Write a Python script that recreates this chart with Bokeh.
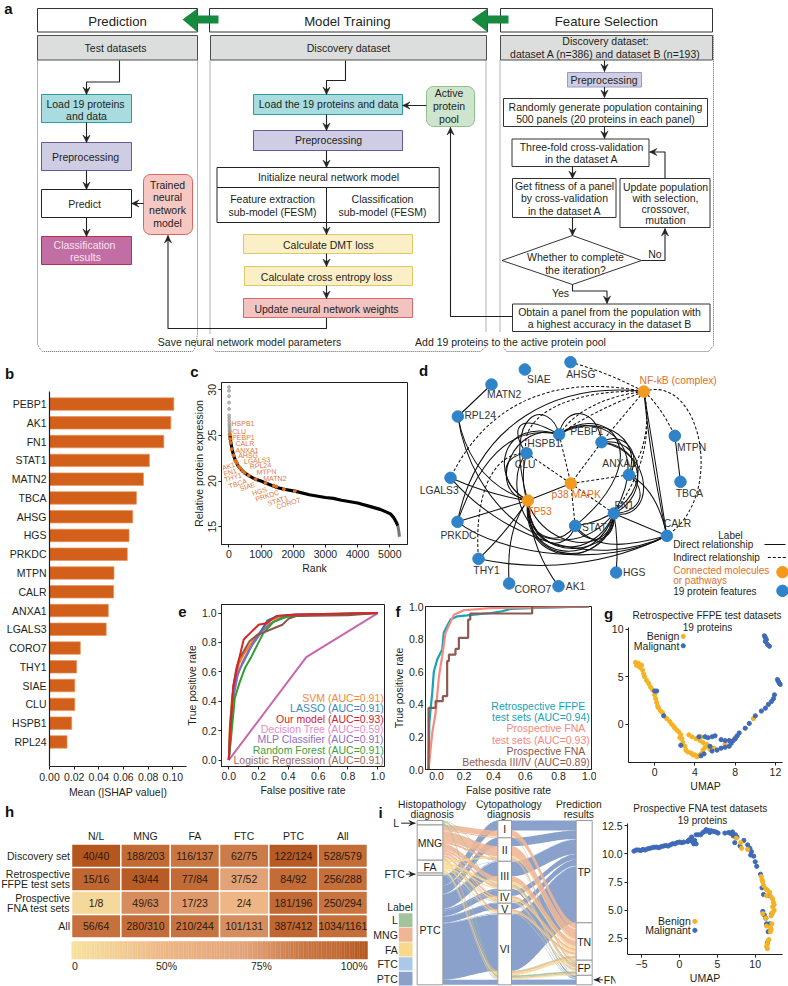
import numpy as np
from bokeh.plotting import figure
from bokeh.models import Column, Range1d, FixedTicker, NumeralTickFormatter
from bokeh.core.properties import value
from bokeh.embed import file_html
from bokeh.resources import INLINE

FONT = "Liberation Sans"
INK = "#231f20"

# ---------------- data ----------------
shap_names = ["PEBP1","AK1","FN1","STAT1","MATN2","TBCA","AHSG","HGS","PRKDC","MTPN","CALR","ANXA1","LGALS3","CORO7","THY1","SIAE","CLU","HSPB1","RPL24"]
shap_values = [0.1008,0.0984,0.0927,0.0810,0.0762,0.0705,0.0675,0.0645,0.0631,0.0523,0.0520,0.0477,0.0460,0.0250,0.0220,0.0205,0.0205,0.0180,0.0142]

rank_curve = [35,60,100,150,210,300,400,490,620,830,1000,1140,1500,1710,2050,2500,3000,3250,3500,4000,4400,4700,4900,5020,5120,5200,5250]
expr_curve = [25.0,24.3,23.5,22.8,22.2,21.6,21.2,20.9,20.6,20.2,20.0,19.8,19.3,19.1,18.9,18.5,18.2,18.1,17.9,17.6,17.2,16.9,16.6,16.4,16.0,15.5,15.1]
rank_tail = [5250,5280,5300]
expr_tail = [15.1,14.5,13.9]
rank_gray = [5,5,8,8,10,10,12,15,18,20,22,25,28,30,32]
expr_gray = [30.3,29.9,29.3,28.6,27.9,27.2,26.9,26.6,26.3,26.1,25.9,25.7,25.5,25.4,25.2]
rank_genes = [30,45,60,90,150,210,250,210,310,360,430,490,620,830,1140,1400,1480,1710,2050]
expr_genes = [25.1,24.6,24.2,23.5,22.8,22.2,22.0,22.2,21.6,21.4,21.1,20.9,20.6,20.2,19.8,19.5,19.4,19.1,18.9]
c_names = ["HSPB1","CLU","PEBP1","CALR","ANXA1","AHSG","LGALS3","RPL24","MTPN","MATN2","AK1","FN1","THY1","TBCA","SIAE","HGS","PRKDC","STAT1","CORO7"]

roc_models = ["SVM","LASSO","Decision Tree","MLP Classifier","Random Forest","Logistic Regression","Our model"]
roc_aucs = ["0.91","0.91","0.59","0.91","0.91","0.91","0.93"]
svm_fpr = [0,0.005,0.02,0.04,0.07,0.10,0.14,0.18,0.22,0.28,0.35,0.5,0.7,1]
svm_tpr = [0,0.20,0.40,0.55,0.66,0.72,0.78,0.84,0.88,0.95,0.975,0.985,0.99,1]
lasso_fpr = [0,0.01,0.03,0.05,0.08,0.12,0.16,0.20,0.26,0.33,0.45,1]
lasso_tpr = [0,0.20,0.45,0.56,0.63,0.71,0.79,0.85,0.95,0.98,0.99,1]
tree_fpr = [0,0.52,1]
tree_tpr = [0,0.70,1]
mlp_fpr = [0,0.01,0.03,0.06,0.09,0.13,0.17,0.22,0.28,0.36,0.5,1]
mlp_tpr = [0,0.12,0.42,0.58,0.66,0.74,0.80,0.87,0.93,0.97,0.985,1]
rf_fpr = [0,0.015,0.04,0.07,0.11,0.15,0.19,0.23,0.30,0.40,0.6,1]
rf_tpr = [0,0.15,0.42,0.52,0.63,0.70,0.78,0.86,0.94,0.98,0.99,1]
lr_fpr = [0,0.01,0.03,0.05,0.07,0.10,0.14,0.19,0.24,0.31,0.36,0.40,0.45,0.8,1]
lr_tpr = [0,0.25,0.50,0.62,0.69,0.74,0.81,0.85,0.87,0.90,0.92,0.96,0.98,0.985,1]
our_fpr = [0,0.01,0.03,0.06,0.10,0.15,0.20,0.25,0.32,0.45,1]
our_tpr = [0,0.20,0.50,0.65,0.82,0.87,0.92,0.93,0.98,0.99,1]

ffpe_fpr = [0,0.005,0.023,0.033,0.054,0.085,0.095,0.137,0.18,0.24,0.39,0.459,0.511,0.636,1]
ffpe_tpr = [0,0.29,0.47,0.60,0.675,0.736,0.84,0.92,0.94,0.945,0.96,0.971,0.985,0.99,1]
fna_fpr = [0,0.023,0.044,0.065,0.085,0.106,0.158,0.22,0.386,0.7,1]
fna_tpr = [0,0.225,0.348,0.573,0.695,0.838,0.95,0.977,0.99,0.995,1]
beth_fpr = [0,0,0.044,0.089,0.116,0.127,0.168,0.189,0.247,0.26,0.646,1]
beth_tpr = [0,0.378,0.419,0.45,0.665,0.705,0.74,0.808,0.92,0.957,1.0,1.0]

g1_benign_x = [-1.9,-1.8,-1.6,-1.5,-1.3,-1.2,-1.1,-1.0,-0.8,-0.6,-0.4,-0.2,0.0,0.1,0.2,0.3,0.4,0.6,0.8,1.2,1.5,1.7,1.9,2.0,2.2,2.4,2.6,2.5,2.7,2.8,3.0,3.1,3.3,3.6,3.8,4.0,4.2,4.4,4.6,4.8,5.0,5.2,3.4,3.7,4.1,4.5,4.8,5.2,5.5,5.9,7.0,8.0,9.8,4.6]
g1_benign_y = [6.5,6.2,6.4,6.0,6.2,5.7,5.3,5.0,4.6,4.3,3.9,3.6,3.1,2.7,2.3,1.9,1.7,1.4,1.2,0.6,0.3,0.0,-0.2,-0.4,-0.6,-0.8,-1.1,-1.4,-1.5,-1.9,-2.3,-2.7,-2.9,-3.0,-3.2,-3.2,-3.4,-3.3,-3.1,-2.7,-2.4,-2.3,-1.1,-1.3,-1.5,-1.7,-1.9,-2.1,-2.6,-2.5,-2.1,-1.4,0.6,-1.3]
g1_malig_x = [0.0,0.2,0.9,2.6,4.4,5.0,5.3,5.7,6.0,6.6,7.0,7.4,7.8,7.6,7.4,7.0,6.6,6.2,5.7,4.9,4.6,5.5,8.4,9.0,9.4,10.0,10.6,11.0,11.3,11.6,11.8,11.9,10.9,11.0,11.1,11.0,11.2,11.4,12.2,12.3,12.4,12.5,8.0,8.2]
g1_malig_y = [3.5,3.5,0.9,-2.2,-1.3,-1.3,-1.4,-1.3,-1.2,-1.6,-1.7,-1.7,-1.7,-2.0,-2.3,-2.4,-2.5,-2.7,-2.8,-3.1,-3.3,-2.3,-0.9,-0.4,0.1,0.9,1.4,1.7,2.1,2.4,2.7,3.1,9.3,9.1,8.9,8.7,8.4,8.2,4.7,4.5,4.3,4.2,-1.5,-1.2]

g2_malig_x = [-6,-5.7,-5.4,-5.1,-4.8,-4.5,-4.2,-3.9,-3.6,-3.3,-3,-2.7,-2.4,-2.1,-1.8,-1.5,-1.2,-0.9,-0.6,-0.3,0,0.3,0.6,1.1,1.2,1.4,1.6,1.7,1.9,2.0,2.2,2.2,2.5,2.8,3.1,3.4,3.5,3.8,4.0,4.2,4.5,4.8,5.1,6.0,6.5,6.8,7,7.1,7.4,7.6,7.3,8.0,8.5,9,9.3,9.5,9.4,9.8,10,10.2,10.7,10.9,11.1,11.8,11,11.2,11.4,11.5,11.7,12.2,11.9,11.6]
g2_malig_y = [10.25,10.35,10.35,10.3,10.4,10.35,10.45,10.5,10.55,10.6,10.6,10.55,10.65,10.7,10.75,10.7,10.8,10.9,10.9,11,11.05,11,11.05,11.1,11.2,11.3,11.5,11.1,10.9,11.2,10.9,11.7,11.7,11.7,11.9,12,12.15,12.1,11.9,12.05,12.0,11.95,11.85,11.85,11.9,11.8,11.95,11.6,11.7,11.5,11.0,10.7,11.2,10.8,10.5,10.2,9.9,9.8,9.3,8.9,8.2,7.0,6.4,6.3,4.9,4.6,4.3,3.8,3.1,4.7,3.8,2.1]
g2_benign_x = [7.5,8.1,8.2,9,10.8,10.9,11,11.1,11.4,11.6,11.5,11.9,12.1,12.3,12.4,12.5,12.3,12.5,12.3,12.1,11,11.4,12.2,12,12,12.1,11.5,11.7,11.6,11.5,11.6,11.8]
g2_benign_y = [11.4,11.0,10.5,10.4,8.0,7.7,7.5,7.2,6.9,6.8,6.3,6.6,6.2,6,5.7,5.5,5.3,5,4.8,4.5,4.7,4.3,3.8,3.5,3.1,3.3,3.6,2.3,2.0,1.8,1.6,2.4]

h_cols = ["N/L","MNG","FA","FTC","PTC","All"]
h_rows = [["Discovery set"],["Retrospective","FFPE test sets"],["Prospective","FNA test sets"],["All"]]
h_num = [[40,188,116,62,122,528],[15,43,77,37,84,256],[1,49,17,2,181,250],[56,280,210,101,387,1034]]
h_den = [[40,203,137,75,124,579],[16,44,84,52,92,288],[8,63,23,4,196,294],[64,310,244,131,412,1161]]
h_bar_labels = ["0","50%","75%","100%"]

i_labels = ["L","MNG","FA","FTC","PTC"]
i_cyto = ["I","II","III","IV","V","VI"]
i_pred = ["TP","TN","FP","FN"]
flow_label = ["PTC","PTC","PTC","PTC","PTC","PTC","PTC","PTC","PTC","PTC","PTC",
              "MNG","MNG","MNG","MNG","MNG","MNG","MNG","MNG","MNG","MNG","MNG",
              "FA","FA","FA","FA","FA","FA","FA","FA","FA","FA","FA",
              "L","L","L","L","L",
              "FTC","FTC","FTC","FTC"]
flow_cyto = ["I","II","II","III","III","IV","IV","V","V","VI","VI",
             "I","I","II","II","III","III","IV","IV","V","VI","VI",
             "I","II","III","III","IV","IV","V","V","VI","VI","VI",
             "II","III","IV","VI","VI",
             "III","IV","VI","VI"]
flow_pred = ["TP","TP","FN","TP","FN","TP","FN","TP","FN","TP","FN",
             "TN","FP","TN","FP","TN","FP","TN","FP","TN","TN","FP",
             "TN","TN","TN","FP","TN","FP","TN","FP","TN","FP","FP",
             "FP","FP","FP","TN","FP",
             "TP","FN","TP","FN"]
flow_n = [18,15,1,26,3,10,1,11,1,101,9,
          10,2,18,4,10,4,4,2,4,3,2,
          1,3,4,2,3,1,2,1,4,1,1,
          1,2,1,1,3,
          1,1,1,1]

# d network
nodes = {"AHSG":(540,20),"SIAE":(403,42),"MATN2":(303,87),"RPL24":(202,183),"NFkB":(760,108),"HSPB1":(506,237),
         "PEBP1":(633,260),"MTPN":(853,241),"CLU":(408,293),"ANXA1":(715,358),"TBCA":(870,379),"LGALS3":(180,367),
         "p38":(541,384),"TP53":(412,435),"FN1":(670,474),"STAT1":(554,511),"PRKDC":(201,499),"CALR":(829,541),
         "THY1":(264,610),"HGS":(677,651),"CORO7":(356,684),"AK1":(504,692)}
hubs = ["NFkB","p38","TP53"]
d_labels = [("AHSG",571,56,"#333"),("SIAE",445,73,"#333"),("MATN2",341,117,"#333"),("RPL24",269,179,"#333"),
            ("NF-kB (complex)",863,74,"#e0701f"),("HSPB1",461,265,"#333"),("PEBP1",589,228,"#333"),("MTPN",903,275,"#333"),
            ("CLU",404,326,"#333"),("ANXA1",686,324,"#333"),("TBCA",897,413,"#333"),("LGALS3",146,405,"#333"),
            ("p38 MAPK",557,416,"#e0701f"),("TP53",447,468,"#e0701f"),("FN1",701,449,"#333"),("STAT1",620,515,"#333"),
            ("PRKDC",204,539,"#333"),("CALR",861,503,"#333"),("THY1",288,644,"#333"),("HGS",731,652,"#333"),
            ("CORO7",427,703,"#333"),("AK1",555,693,"#333")]
solid_cubic = [("RPL24",(240,450),(500,680),"FN1"),("LGALS3",(330,540),(600,650),"CALR"),("PRKDC",(330,600),(650,640),"CALR"),
               ("THY1",(450,650),(650,630),"CALR"),("TP53",(400,620),(620,640),"FN1"),("TP53",(385,630),(640,655),"FN1"),
               ("TP53",(410,600),(610,625),"FN1"),("TP53",(395,640),(660,640),"FN1"),("TP53",(420,590),(530,590),"STAT1"),
               ("TP53",(290,370),(330,180),"HSPB1"),("TP53",(320,380),(330,300),"CLU"),("CLU",(360,230),(370,160),"HSPB1"),
               ("HSPB1",(520,150),(620,150),"PEBP1"),("PRKDC",(260,200),(500,80),"NFkB"),("PEBP1",(760,270),(780,420),"FN1"),
               ("HSPB1",(600,160),(800,250),"FN1"),("HSPB1",(620,170),(760,240),"ANXA1"),("PEBP1",(700,220),(760,300),"ANXA1"),
               ("ANXA1",(770,400),(760,470),"FN1"),("PEBP1",(800,290),(790,500),"FN1"),("STAT1",(580,570),(680,570),"FN1"),
               ("CLU",(340,560),(660,640),"FN1"),("HSPB1",(370,190),(280,410),"TP53"),("CLU",(320,400),(450,640),"STAT1"),
               ("STAT1",(620,590),(720,570),"CALR"),("HSPB1",(480,130),(330,150),"TP53"),("HSPB1",(650,130),(810,300),"STAT1"),
               ("FN1",(690,590),(420,650),"TP53"),("PEBP1",(790,240),(790,480),"STAT1")]
solid_quad = [("RPL24","MATN2",None),("MTPN","TBCA",None),("NFkB","CALR",(780,320)),("NFkB","CALR",(795,320)),("p38","TP53",None),
              ("RPL24","TP53",(240,380)),("LGALS3","TP53",(300,420)),("PRKDC","TP53",None),("PRKDC","HSPB1",(310,190)),
              ("THY1","TP53",(340,540)),("CORO7","TP53",(345,520)),("AK1","TP53",(420,580)),("HGS","FN1",(685,560)),
              ("FN1","CALR",None),("ANXA1","CALR",(800,400))]
dash_quad = [("AHSG","NFkB",(650,50)),("NFkB","MTPN",(810,150)),("NFkB","HSPB1",(580,130)),("NFkB","HSPB1",(600,170)),("NFkB","PEBP1",None),
             ("NFkB","ANXA1",(790,250)),("NFkB","FN1",(800,300)),("HSPB1","p38",None),("PEBP1","p38",None),("CLU","p38",None),
             ("ANXA1","p38",None),("FN1","p38",None),("STAT1","p38",None)]
dash_cubic = [("NFkB",(930,50),(1010,420),"CALR"),("NFkB",(520,60),(300,120),"LGALS3"),("NFkB",(560,100),(380,170),"CLU"),
              ("CLU",(300,290),(250,430),"THY1")]

# ---------------- helpers ----------------
LB, RB = 50, 5   # side borders Bokeh keeps round a frame; figures are placed so that frames land where wanted

def T(p, x, y, s, size=10.5, color=INK, align="center", bold=False, angle=0):
    p.text(x=[x], y=[y], text=[s], text_font=value(FONT), text_font_size=f"{size}px", text_color=color,
           text_align=align, text_baseline="middle", angle=angle,
           text_font_style="bold" if bold else "normal")

def place(p, left, top):
    # children sit in an inner column that begins LB pixels left of the page
    p.styles = {"position": "absolute", "left": f"{left+LB}px", "top": f"{top}px"}
    return p

def bare(left, top, width, height, x_range, y_range):
    p = figure(width=width+LB+RB, height=height, x_range=x_range, y_range=y_range, output_backend="svg",
               toolbar_location=None, min_border_left=LB, min_border_right=RB, min_border_top=0, min_border_bottom=0,
               background_fill_color=None, border_fill_color=None,
               outline_line_color=None, x_axis_location=None, y_axis_location=None)
    p.grid.visible = False
    return place(p, left-LB, top)

def axes_style(ax, size=10.5, standoff=2, label_standoff=1, tick=3):
    ax.major_label_text_font = FONT
    ax.major_label_text_font_size = f"{size}px"
    ax.major_label_text_color = INK
    ax.axis_label_text_font = FONT
    ax.axis_label_text_font_size = f"{size}px"
    ax.axis_label_text_font_style = "normal"
    ax.axis_label_text_color = INK
    ax.major_label_standoff = standoff
    ax.axis_label_standoff = label_standoff
    ax.minor_tick_line_color = None
    ax.major_tick_out = tick
    ax.major_tick_in = 0
    ax.axis_line_color = INK
    ax.major_tick_line_color = INK
    ax.axis_line_width = 1

def chart(top, fx0, fx1, fy0, fy1, bottom, xr, yr, outline=True):
    p = figure(width=int(fx1-fx0+LB+RB), height=bottom-top, x_range=Range1d(*xr), y_range=Range1d(*yr), output_backend="svg",
               toolbar_location=None, min_border_left=LB, min_border_right=RB,
               min_border_top=fy0-top, min_border_bottom=bottom-fy1, background_fill_color=None,
               border_fill_color=None, outline_line_color=INK if outline else None)
    p.grid.visible = False
    for ax in (p.xaxis[0], p.yaxis[0]):
        axes_style(ax)
    return place(p, fx0-LB, top)

# ---------------- canvas with flowchart and letters ----------------
cv = bare(0, 0, 733, 986, Range1d(0, 733), Range1d(986, 0))

def box(x0, y0, x1, y1, fill="#ffffff", line="#222222", w=1.0):
    cv.quad(left=[x0], right=[x1], top=[y0], bottom=[y1], fill_color=fill, line_color=line, line_width=w)

def rbox(x0, y0, x1, y1, r, fill, line):
    a = np.linspace(0, np.pi/2, 8)
    xs = np.r_[x1-r+r*np.sin(a), x1-r+r*np.cos(a), x0+r-r*np.sin(a), x0+r-r*np.cos(a)]
    ys = np.r_[y0+r-r*np.cos(a), y1-r+r*np.sin(a), y1-r+r*np.cos(a), y0+r-r*np.sin(a)]
    cv.patch(xs, ys, fill_color=fill, line_color=line, line_width=1)

def arrow(pts, color="#222222", w=1.1, L=7.5, H=3.6):
    xs = [q[0] for q in pts]; ys = [q[1] for q in pts]
    cv.line(xs, ys, line_color=color, line_width=w)
    dx, dy = xs[-1]-xs[-2], ys[-1]-ys[-2]
    n = np.hypot(dx, dy); dx, dy = dx/n, dy/n
    tx, ty = xs[-1], ys[-1]
    bx, by = tx-dx*L, ty-dy*L
    nx, ny = tx-dx*L*0.62, ty-dy*L*0.62
    cv.patch([tx, bx-dy*H, nx, bx+dy*H], [ty, by+dx*H, ny, by-dx*H], fill_color=color, line_color=color, line_width=0.5)

def dotted(xs, ys):
    cv.line(xs, ys, line_color="#555555", line_width=0.9, line_dash="1 1")

teal, tealE = "#a9dcdf", "#2b9aa3"
purp, purpE = "#cfcde3", "#5e5ca0"
yel, yelE = "#fbefc8", "#dfc765"
red, redE = "#f3c3c1", "#d66a68"
gray, grayE = "#dcdedd", "#4d4d4d"

# header boxes
for x0, x1, tx, s in [(37, 197, 117, "Prediction"), (209, 487, 347, "Model Training"), (500, 712, 606, "Feature Selection")]:
    box(x0, 8, x1, 31.5, line="#333333")
    T(cv, tx, 20.5, s, size=13.2)
for bx0, bx1, hx0, hx1 in [(197, 218, 182, 197), (487, 508, 471, 487)]:
    cv.patch([hx0, hx1, hx1, bx1, bx1, hx1, hx1], [19, 8, 15, 15, 23, 23, 31.5], fill_color="#178a3f", line_color=None)

# gray boxes
box(37, 35, 197, 59.5, gray, grayE)
box(210, 35, 486, 59.5, gray, grayE)
box(500, 35, 712, 59.5, gray, grayE)
T(cv, 115, 47, "Test datasets"); T(cv, 348, 47, "Discovery dataset")
T(cv, 605, 40, "Discovery dataset:"); T(cv, 605, 53, "dataset A (n=386) and dataset B (n=193)")

# dotted panels
dotted([37, 37], [60, 344]); dotted([37, 40, 42, 192, 194, 197], [344, 349, 351, 351, 349, 334])
dotted([197, 197], [60, 334])
dotted([209.5, 209.5], [60, 333]); dotted([213, 215, 480, 485.5], [349, 351, 351, 346]); dotted([485.5, 485.5], [60, 331])
dotted([499.5, 499.5], [60, 331]); dotted([503, 506, 708, 713, 713], [347, 351, 351, 345, 35])

# prediction column
box(41, 94, 131, 122, teal, tealE); T(cv, 85, 103, "Load 19 proteins"); T(cv, 86, 115.5, "and data")
box(41, 142, 131, 170, purp, purpE); T(cv, 85, 156, "Preprocessing")
box(41, 189, 131, 217); T(cv, 84, 203, "Predict")
box(41, 236, 131, 264, "#c26da3", "#b4304f"); T(cv, 84, 244, "Classification", color="#f6e4ef"); T(cv, 85, 256, "results", color="#f6e4ef")
rbox(143, 174, 192, 234, 7, "#f5c8c4", "#d9635f")
for i, s in enumerate(["Trained", "neural", "network", "model"]):
    T(cv, 167, 184+i*12.8, s)
arrow([(119, 60), (119, 81.5), (86, 81.5), (86, 94)])
arrow([(86, 122), (86, 142)]); arrow([(86, 170), (86, 189)]); arrow([(86, 217), (86, 236)])
arrow([(143, 203), (131, 203)])
arrow([(326, 317), (326, 328), (167.5, 328), (167.5, 235)])

# model column
box(253, 94, 402, 114, teal, tealE); T(cv, 328, 103, "Load the 19 proteins and data")
box(253, 130, 402, 150, purp, purpE); T(cv, 328, 139.5, "Preprocessing")
box(216.5, 167, 438.7, 187); T(cv, 328, 176.5, "Initialize neural network model")
box(216.5, 187, 326, 222); box(326, 187, 438.7, 222)
T(cv, 272, 198.5, "Feature extraction"); T(cv, 272, 211, "sub-model (FESM)")
T(cv, 382, 198.5, "Classification"); T(cv, 382, 211, "sub-model (FESM)")
box(243, 234, 412, 253, yel, yelE); T(cv, 328, 244, "Calculate DMT loss")
box(244, 266, 412, 285, yel, yelE); T(cv, 326, 276, "Calculate cross entropy loss")
box(243, 298, 412, 317, red, redE); T(cv, 326, 308, "Update neural network weights")
arrow([(345, 60), (345, 80), (326, 80), (326, 94)])
for y0, y1 in [(114, 130), (150, 167), (222, 234), (253, 266), (285, 298)]:
    arrow([(326, y0), (326, y1)])
rbox(426, 86, 474, 126, 7, "#cfe4cc", "#8dc08a")
for i, s in enumerate(["Active", "protein", "pool"]):
    T(cv, 448.5, 92.5+i*12.8, s)
arrow([(426, 105), (402, 105)])
arrow([(512, 316), (450, 316), (450, 127)])
T(cv, 249, 341, "Save neural network model parameters"); T(cv, 510, 341, "Add 19 proteins to the active protein pool")

# feature column
arrow([(604, 60), (604, 71)])
box(567, 72, 641, 86.5, purp, "#9b99c8"); T(cv, 603.5, 79, "Preprocessing")
arrow([(604, 86.5), (604, 97)])
box(503, 98, 707, 126, line="#333333"); T(cv, 605, 106, "Randomly generate population containing"); T(cv, 605, 118.5, "500 panels (20 proteins in each panel)")
arrow([(604, 126), (604, 138)])
box(511.5, 138.5, 648.5, 166, line="#333333"); T(cv, 581, 146, "Three-fold cross-validation"); T(cv, 581, 158.5, "in the dataset A")
arrow([(572, 166), (572, 178)])
box(512, 178, 615.5, 217, line="#333333")
for i, s in enumerate(["Get fitness of a panel", "by cross-validation", "in the dataset A"]):
    T(cv, 564, 185+i*12.9, s)
box(619.5, 178, 709.5, 227, line="#333333")
for i, s in enumerate(["Update population", "with selection,", "crossover,", "mutation"]):
    T(cv, 665, 186+i*11.2, s)
arrow([(664.5, 178), (664.5, 151.5), (649, 151.5)])
arrow([(572, 217), (572, 235)])
cv.patch([501.5, 572, 641, 572], [260, 235, 260, 284], fill_color="#ffffff", line_color="#333333", line_width=1)
T(cv, 575, 256, "Whether to complete"); T(cv, 575, 269, "the iteration?")
arrow([(641, 260), (664.5, 260), (664.5, 228)])
T(cv, 654.5, 253, "No")
arrow([(572, 284), (572, 290.5), (606.5, 290.5), (606.5, 303)])
T(cv, 560, 292, "Yes")
box(512, 303.5, 709.5, 331, line="#333333"); T(cv, 609, 311, "Obtain a panel from the population with"); T(cv, 609, 323, "a highest accuracy in the dataset B")

# panel letters
for s, x, y in [("a", 8, 8), ("b", 9, 373), ("c", 194, 371), ("d", 423, 370), ("e", 182, 611), ("f", 397.5, 611), ("g", 608, 613), ("h", 9, 811), ("i", 380, 812)]:
    T(cv, x, y, s, size=15, color="#111111", bold=True)

# titles for g panels
tg1 = bare(600, 606, 188, 28, Range1d(600, 788), Range1d(634, 606))
T(tg1, 706.5, 615, "Retrospective FFPE test datasets", size=10); T(tg1, 707, 626.5, "19 proteins", size=10)
tg2 = bare(600, 800, 188, 28, Range1d(600, 788), Range1d(828, 800))
T(tg2, 700, 808, "Prospective FNA test datasets", size=10); T(tg2, 702, 820, "19 proteins", size=10)

# ---------------- b ----------------
pb = chart(385, 49, 186, 391, 772, 800, (0, 0.1111), (19.31, -0.67), outline=False)
pb.hbar(y=list(range(19)), right=shap_values, height=0.665, fill_color="#d2601a", line_color="#e9925a", line_width=0.7)
pb.yaxis[0].ticker = FixedTicker(ticks=list(range(19)))
pb.yaxis[0].major_label_overrides = {i: n for i, n in enumerate(shap_names)}
pb.yaxis[0].major_tick_out = 0
pb.yaxis[0].major_label_standoff = 3
pb.xaxis[0].ticker = FixedTicker(ticks=[0, 0.02, 0.04, 0.06, 0.08, 0.10])
pb.xaxis[0].formatter = NumeralTickFormatter(format="0.00")
pb.xaxis[0].axis_label = "Mean (|SHAP value|)"
pb.xaxis[0].major_label_standoff = 3
pb.xaxis[0].axis_label_standoff = 2
pb.yaxis[0].axis_line_width = 1.2

# ---------------- c ----------------
pc = chart(376, 221, 407, 382, 544, 580, (-227, 5550), (13.05, 30.8))
pc.scatter(rank_gray, expr_gray, size=3, color="#9a9a9a", alpha=0.7)
pc.line(rank_curve, expr_curve, line_color="#000000", line_width=3.2)
pc.line(rank_tail, expr_tail, line_color="#777777", line_width=3)
pc.scatter(rank_genes, expr_genes, size=3, color="#e0701f")
pc.xaxis[0].ticker = FixedTicker(ticks=[0, 1000, 2000, 3000, 4000, 5000])
pc.xaxis[0].axis_label = "Rank"
pc.yaxis[0].ticker = FixedTicker(ticks=[15, 20, 25, 30])
pc.yaxis[0].axis_label = "Relative protein expression"
pc.yaxis[0].major_label_orientation = "vertical"
def c_x(zx): return (zx/3-228.3)/32.2*1000
def c_y(zy): return 15+(526-(355+zy/3))/9.1
c_pos = [(693,205,0),(695,228,0),(695,245,0),(705,263,0),(705,285,0),(713,300,0),(730,318,0.08),(748,333,0.08),(768,350,0.05),(788,369,0),
         (665,338,0.3),(670,356,0.3),(672,373,0.3),(685,392,0.3),(718,400,0.3),(755,414,0.3),(765,431,0.3),(802,444,0.3),(828,454,0.3)]
for n, (zx, zy_, ang) in zip(c_names, c_pos):
    T(pc, c_x(zx), c_y(zy_), n, size=7, color="#e0783c", align="left", angle=ang)

# ---------------- d ----------------
pd_ = bare(390, 355, 398, 260, Range1d(0, 1194), Range1d(780, 0))
def nxy(v): return nodes[v] if isinstance(v, str) else v
for lst, dash in [(solid_quad, "solid"), (dash_quad, "3 2")]:
    for a, b, c in lst:
        ax, ay = nxy(a); bx, by = nxy(b)
        if c is None:
            pd_.line([ax, bx], [ay, by], line_color="#111111", line_width=1.05, line_dash=dash)
        else:
            pd_.quadratic(x0=[ax], y0=[ay], x1=[bx], y1=[by], cx=[c[0]], cy=[c[1]], line_color="#111111", line_width=1.05, line_dash=dash)
for lst, dash in [(solid_cubic, "solid"), (dash_cubic, "3 2")]:
    for a, c0, c1, b in lst:
        ax, ay = nxy(a); bx, by = nxy(b)
        pd_.bezier(x0=[ax], y0=[ay], x1=[bx], y1=[by], cx0=[c0[0]], cy0=[c0[1]], cx1=[c1[0]], cy1=[c1[1]], line_color="#111111", line_width=1.05, line_dash=dash)
pd_.scatter([nodes[k][0] for k in nodes if k not in hubs], [nodes[k][1] for k in nodes if k not in hubs], size=11.5, color="#2f83c8")
pd_.scatter([nodes[k][0] for k in hubs], [nodes[k][1] for k in hubs], size=11.5, color="#f39a1e")
for s, x, y, col in d_labels:
    T(pd_, x, y, s, size=10.3, color=col)
T(pd_, 1020, 540, "Label", size=10)
T(pd_, 848, 567, "Direct relationship", size=10, align="left")
T(pd_, 848, 605, "Indirect relationship", size=10, align="left")
T(pd_, 848, 646, "Connected molecules", size=10, align="left", color="#e0701f")
T(pd_, 848, 674, "or pathways", size=10, align="left", color="#e0701f")
T(pd_, 848, 709, "19 protein features", size=10, align="left")
pd_.line([1122, 1185], [567, 567], line_color="#111111", line_width=1)
pd_.line([1132, 1190], [606, 606], line_color="#111111", line_width=1.2, line_dash="3 2")
pd_.scatter([1176, 1176], [650, 706], size=11.5, color=["#f39a1e", "#2f83c8"])

# ---------------- e ----------------
pe = chart(598, 221, 384, 604, 770, 798, (-0.049, 1.045), (-0.044, 1.058))
roc_e = [(svm_fpr, svm_tpr, "#ff7f0e"), (lasso_fpr, lasso_tpr, "#1f77b4"), (tree_fpr, tree_tpr, "#c966ad"), (mlp_fpr, mlp_tpr, "#9467bd"),
         (rf_fpr, rf_tpr, "#2ca02c"), (lr_fpr, lr_tpr, "#8c564b"), (our_fpr, our_tpr, "#d62728")]
for xs, ys, col in roc_e:
    pe.line(xs, ys, line_color=col, line_width=2)
pe.xaxis[0].ticker = FixedTicker(ticks=[0, .2, .4, .6, .8, 1])
pe.yaxis[0].ticker = FixedTicker(ticks=[0, .2, .4, .6, .8, 1])
pe.xaxis[0].formatter = NumeralTickFormatter(format="0.0")
pe.yaxis[0].formatter = NumeralTickFormatter(format="0.0")
pe.xaxis[0].axis_label = "False positive rate"
pe.yaxis[0].axis_label = "True positive rate"
e_legend = [("SVM", "0.91", "#f58a3c"), ("LASSO", "0.91", "#3b86bd"), ("Our model", "0.93", "#d8202f"), ("Decision Tree", "0.59", "#e68bc8"),
            ("MLP Classifier", "0.91", "#9070c0"), ("Random Forest", "0.91", "#3ea03a"), ("Logistic Regression", "0.91", "#9a6a5e")]
for i, (m, a, col) in enumerate(e_legend):
    T(pe, 1.04, (763.4-(699.7+i*10.65))/150.6, f"{m} (AUC={a})", color=col, align="right")

# ---------------- f ----------------
pf = chart(598, 425, 591, 606, 770, 798, (-0.019, 1.016), (0, 1.0))
pf.line(ffpe_fpr, ffpe_tpr, line_color="#14a3b8", line_width=2.2)
pf.line(fna_fpr, fna_tpr, line_color="#f58a80", line_width=2.2)
pf.step(beth_fpr, beth_tpr, line_color="#8e5a50", line_width=2.2, mode="after")
f_ticks = [0.05, 0.222, 0.405, 0.604, 0.81, 1.008]
f_tick_text = ["0.0", "0.2", "0.4", "0.6", "0.8", "1.0"]
pf.xaxis[0].ticker = FixedTicker(ticks=f_ticks)
pf.xaxis[0].major_label_overrides = dict(zip(f_ticks, f_tick_text))
pf.xaxis[0].major_tick_out = 0
pf.yaxis[0].ticker = FixedTicker(ticks=[0, .2, .4, .6, .8, 1])
pf.yaxis[0].formatter = NumeralTickFormatter(format="0.0")
pf.xaxis[0].axis_label = "False positive rate"
pf.yaxis[0].axis_label = "True positive rate"
pf.yaxis[0].major_tick_out = 0
f_legend = [("Retrospective FFPE", "#14a3b8", 706, 0.977), ("test sets (AUC=0.94)", "#14a3b8", 717.3, 1.005),
            ("Prospective FNA", "#f58a80", 728.7, 0.977), ("test sets (AUC=0.93)", "#f58a80", 740, 1.005),
            ("Prospective FNA", "#8e5a50", 751.3, 0.977), ("Bethesda III/IV (AUC=0.89)", "#8e5a50", 762.3, 1.005)]
for s, col, y, x in f_legend:
    T(pf, x, (770-y)/164, s, color=col, align="right")

# ---------------- g ----------------
YEL, BLU = "#f5b323", "#3e6ab8"
pg = chart(620, 628, 782, 627, 770, 794, (-2.6, 12.7), (-4.0, 10.17), outline=False)
pg.scatter(g1_benign_x, g1_benign_y, size=4.2, color=YEL)
pg.scatter(g1_malig_x, g1_malig_y, size=4.2, color=BLU)
pg.xaxis[0].ticker = FixedTicker(ticks=[0, 4, 8, 12])
pg.yaxis[0].ticker = FixedTicker(ticks=[0, 5, 10])
pg.xaxis[0].axis_label = "UMAP"
T(pg, 2.45, 9.24, "Benign", align="right"); T(pg, 2.45, 8.25, "Malignant", align="right")
pg.scatter([2.84], [9.24], size=4.2, color=YEL); pg.scatter([2.84], [8.25], size=4.2, color=BLU)

pg2 = chart(815, 627, 782, 823, 965, 986, (-6.85, 13.6), (1.08, 12.7), outline=False)
pg2.scatter(g2_malig_x, g2_malig_y, size=4.2, color=BLU)
pg2.scatter(g2_benign_x, g2_benign_y, size=4.2, color=YEL)
pg2.xaxis[0].ticker = FixedTicker(ticks=[-5, 0, 5, 10])
pg2.yaxis[0].ticker = FixedTicker(ticks=[2.5, 5, 7.5, 10, 12.5])
pg2.yaxis[0].formatter = NumeralTickFormatter(format="0.0")
pg2.xaxis[0].axis_label = "UMAP"
T(pg2, 1.5, 4.02, "Benign", align="right"); T(pg2, 1.5, 3.22, "Malignant", align="right")
pg2.scatter([2.04], [4.02], size=4.2, color=YEL); pg2.scatter([2.04], [3.22], size=4.2, color=BLU)

# ---------------- h ----------------
stops_f = [0, .125, .5, .71, .78, .85, .93, 1]
stops_c = [(247,225,156), (245,217,155), (237,182,132), (226,163,121), (214,140,92), (200,117,65), (194,106,52), (180,86,30)]
def frac_color(f):
    rgb = [int(np.interp(f, stops_f, [c[k] for c in stops_c])) for k in range(3)]
    return "#%02x%02x%02x" % tuple(rgb)
ph = bare(0, 828, 372, 150, Range1d(-71/49.33, 301/49.33), Range1d(4.0+(978-938)/23.2, -(843.3-828)/23.2))
for r in range(4):
    for c in range(6):
        f = h_num[r][c]/h_den[r][c]
        ph.quad(left=[c+0.015], right=[c+0.985], top=[r+0.03], bottom=[r+0.97], fill_color=frac_color(f), line_color=None)
        T(ph, c+0.5, r+0.5, f"{h_num[r][c]}/{h_den[r][c]}", size=10.5, color="#2a1a10")
for c, s in enumerate(h_cols):
    T(ph, c+0.5, -0.32, s)
for r, lines in enumerate(h_rows):
    if len(lines) == 1:
        T(ph, -0.03, r+0.5, lines[0], align="right")
    else:
        T(ph, -0.03, r+0.28, lines[0], align="right"); T(ph, -0.03, r+0.72, lines[1], align="right")
bar_y0, bar_y1 = 4+(941.3-938)/23.2, 4+(959-938)/23.2
edges = np.linspace(0, 6, 181)
fr = np.interp(edges, [0, 1.925, 3.85, 6], [0, .5, .75, 1])
ph.quad(left=edges[:-1], right=edges[1:]+0.005, top=[bar_y0]*180, bottom=[bar_y1]*180, fill_color=[frac_color(f) for f in fr[:-1]], line_color=None)
for s, x, al in zip(h_bar_labels, [0.01, 1.925, 3.85, 6.0], ["left", "center", "center", "right"]):
    T(ph, x, 4+(965.7-938)/23.2, s, align=al)

# ---------------- i ----------------
K = 493/294
def zy(v): return (v-60)/K
pi = bare(355, 800, 260, 186, Range1d(0, 780), Range1d(zy(558), zy(0)))
colors = {"L": "#a2c39b", "MNG": "#f0b595", "FA": "#f7d88c", "FTC": "#a9c9e6", "PTC": "#8aa2cb"}
order = {k: i for i, k in enumerate(i_labels)}
corder = {k: i for i, k in enumerate(i_cyto)}
porder = {k: i for i, k in enumerate(i_pred)}
flows = list(zip(flow_label, flow_cyto, flow_pred, flow_n))

def stack(keyfun, groupkey, grouporder):
    pos, totals, y = {}, {}, 0
    for g in grouporder:
        members = sorted([k for k, f in enumerate(flows) if f[groupkey] == g], key=lambda k: keyfun(flows[k]))
        start = y
        for k in members:
            pos[k] = (y, y+flows[k][3]); y += flows[k][3]
        totals[g] = (start, y)
    return pos, totals

p1, t1 = stack(lambda f: (corder[f[1]], porder[f[2]]), 0, i_labels)
p2, t2 = stack(lambda f: (porder[f[2]], order[f[0]]), 1, i_cyto)
p3, t3 = stack(lambda f: (corder[f[1]], order[f[0]]), 2, i_pred)

def ribbon(x0, x1, a, b):
    t = np.linspace(0, 1, 30)
    s = 3*t**2-2*t**3
    xs = x0+(x1-x0)*t
    top = a[0]+(b[0]-a[0])*s; bot = a[1]+(b[1]-a[1])*s
    return np.r_[xs, xs[::-1]], np.r_[top, bot[::-1]]

draw_order = ["PTC", "FTC", "MNG", "FA", "L"]
for lab in draw_order:
    alpha = 1.0 if lab == "PTC" else 0.88
    for k, f in enumerate(flows):
        if f[0] != lab:
            continue
        xs, ys = ribbon(262, 427, p1[k], p2[k])
        pi.patch(xs, ys, fill_color=colors[lab], fill_alpha=alpha, line_color=None)
        xs, ys = ribbon(468, 662, p2[k], p3[k])
        pi.patch(xs, ys, fill_color=colors[lab], fill_alpha=alpha, line_color=None)

for totals, x0, x1, names in [(t1, 185, 262, i_labels), (t2, 427, 468, i_cyto), (t3, 662, 710, i_pred)]:
    for g in names:
        a, b = totals[g]
        pi.quad(left=[x0], right=[x1], top=[a], bottom=[b], fill_color="#ffffff", line_color="#9a9a9a", line_width=1)
        if g not in ("L", "FTC", "FN"):
            T(pi, (x0+x1)/2, (a+b)/2, g, size=10.5)

for s, zx, zs in [("Histopathology", 230, 13), ("diagnosis", 230, 42), ("Cytopathology", 460, 13), ("diagnosis", 460, 42), ("Prediction", 670, 13), ("results", 670, 42)]:
    T(pi, zx, zy(zs), s, size=10.3)

def i_arrow(x0, x1, zs):
    pi.line([x0, x1], [zy(zs), zy(zs)], line_color="#222222", line_width=1)
    d = 1 if x1 > x0 else -1
    pi.patch([x1, x1-d*22, x1-d*14, x1-d*22], [zy(zs), zy(zs-10), zy(zs), zy(zs+10)], fill_color="#222222", line_color=None)
T(pi, 131, zy(68), "L", align="right"); i_arrow(137, 180, 68)
T(pi, 148, zy(221), "FTC", align="right"); i_arrow(152, 180, 221)
i_arrow(742, 715, 538); T(pi, 745, zy(538), "FN", align="left")
T(pi, 172, zy(318), "Label", align="right")
for s, a, b in zip(i_labels, [338, 382, 426, 470, 514], [380, 424, 468, 510, 555]):
    pi.quad(left=[130], right=[171], top=[zy(a)], bottom=[zy(b)], fill_color=colors[s], line_color=None)
    T(pi, 127, zy((a+b)/2), s, align="right")

# ---------------- page ----------------
inner = Column(children=[cv, pb, pc, pd_, pe, pf, pg, pg2, tg1, tg2, ph, pi], width=900, height=986,
               styles={"position": "absolute", "left": f"{-LB}px", "top": "0px"})
root = Column(children=[inner], width=788, height=986,
              styles={"position": "absolute", "left": "0px", "top": "0px", "overflow": "hidden"})
open("out.html", "w").write(file_html(root, INLINE))
